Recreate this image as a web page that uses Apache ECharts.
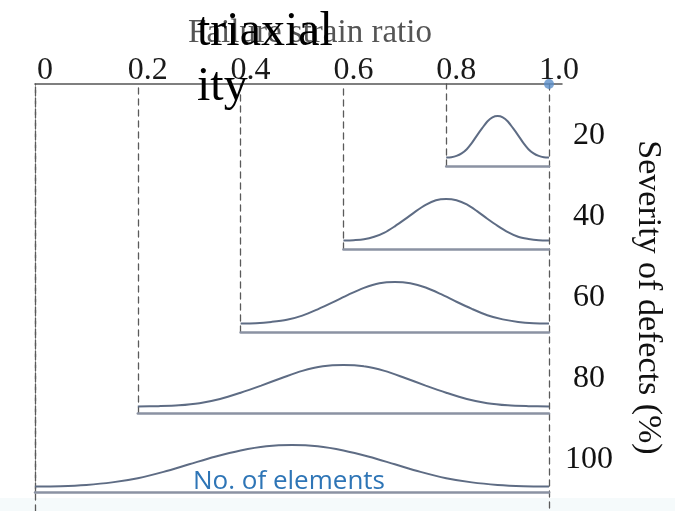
<!DOCTYPE html>
<html>
<head>
<meta charset="utf-8">
<script src="https://cdn.jsdelivr.net/npm/echarts@6/dist/echarts.min.js"></script>
<style>html,body{margin:0;padding:0;background:#fff}#c{width:675px;height:511px}</style>
</head>
<body>
<div id="c"></div>
<script>
// ---- data ----
const tickValues = [0, 0.2, 0.4, 0.6, 0.8, 1.0];
const tickLabels = ['0', '0.2', '0.4', '0.6', '0.8', '1.0'];
const severity = [20, 40, 60, 80, 100];
const rangeStart = [0.8, 0.6, 0.4, 0.2, 0.0];
const rangeEnd = [1.0, 1.0, 1.0, 1.0, 1.0];

const ratio20 = [0.80, 0.81, 0.82, 0.83, 0.84, 0.85, 0.86, 0.87, 0.88, 0.89, 0.90, 0.91, 0.92, 0.93, 0.94, 0.95, 0.96, 0.97, 0.98, 0.99, 1.00];
const count20 = [0.01, 0.02, 0.05, 0.11, 0.21, 0.36, 0.54, 0.71, 0.87, 0.97, 1.00, 0.97, 0.87, 0.71, 0.54, 0.36, 0.21, 0.11, 0.05, 0.02, 0.01];
const ratio40 = [0.60, 0.62, 0.64, 0.66, 0.68, 0.70, 0.72, 0.74, 0.76, 0.78, 0.80, 0.82, 0.84, 0.86, 0.88, 0.90, 0.92, 0.94, 0.96, 0.98, 1.00];
const count40 = [0.01, 0.02, 0.04, 0.10, 0.20, 0.35, 0.52, 0.70, 0.86, 0.97, 1.00, 0.97, 0.87, 0.71, 0.53, 0.36, 0.21, 0.10, 0.05, 0.02, 0.01];
const ratio60 = [0.40, 0.43, 0.46, 0.49, 0.52, 0.55, 0.58, 0.61, 0.64, 0.67, 0.70, 0.73, 0.76, 0.79, 0.82, 0.85, 0.88, 0.91, 0.94, 0.97, 1.00];
const count60 = [0.01, 0.02, 0.05, 0.10, 0.20, 0.35, 0.52, 0.70, 0.86, 0.97, 1.00, 0.97, 0.87, 0.71, 0.53, 0.36, 0.21, 0.11, 0.05, 0.02, 0.01];
const ratio80 = [0.20, 0.24, 0.28, 0.32, 0.36, 0.40, 0.44, 0.48, 0.52, 0.56, 0.60, 0.64, 0.68, 0.72, 0.76, 0.80, 0.84, 0.88, 0.92, 0.96, 1.00];
const count80 = [0.01, 0.02, 0.04, 0.09, 0.19, 0.34, 0.51, 0.69, 0.86, 0.97, 1.00, 0.97, 0.86, 0.69, 0.51, 0.34, 0.19, 0.09, 0.04, 0.02, 0.01];
const ratio100 = [0.00, 0.05, 0.10, 0.15, 0.20, 0.25, 0.30, 0.35, 0.40, 0.45, 0.50, 0.55, 0.60, 0.65, 0.70, 0.75, 0.80, 0.85, 0.90, 0.95, 1.00];
const count100 = [0.01, 0.02, 0.05, 0.11, 0.21, 0.36, 0.54, 0.72, 0.87, 0.97, 1.00, 0.97, 0.87, 0.72, 0.54, 0.36, 0.21, 0.11, 0.05, 0.02, 0.01];

const ratios = [ratio20, ratio40, ratio60, ratio80, ratio100];
const counts = [count20, count40, count60, count80, count100];

// ---- layout ----
const W = 675, H = 511;
const PLOT_L = 35, X_AT_ONE = 549, AXIS_END = 562, TOP = 84;
const underlineY = [166, 249, 332, 413, 492];
const gapPx = [8, 8, 8, 6, 5];
const AMP = 42;
const SERIF = 'Liberation Serif';
const dash = { color: '#5a5a5a', width: 1.3, type: [6, 5] };

const chart = echarts.init(document.getElementById('c'), null, { renderer: 'canvas' });

const grids = [
  { left: PLOT_L, right: W - AXIS_END, top: TOP, bottom: 0 },
  { left: PLOT_L, right: W - X_AT_ONE, top: TOP, bottom: 0 }
];
const xAxes = [
  {
    gridIndex: 0, type: 'value', position: 'top', min: 0,
    max: 1 + (AXIS_END - X_AT_ONE) / (X_AT_ONE - PLOT_L),
    axisLine: { show: true, onZero: false, lineStyle: { color: '#555', width: 1.5 } },
    axisTick: { show: false }, splitLine: { show: false },
    axisLabel: {
      customValues: tickValues, margin: -3, align: 'center',
      padding: [0, 0, 0, 20],
      fontFamily: SERIF, fontSize: 32, color: '#1a1a1a',
      formatter: v => { const i = tickValues.findIndex(t => Math.abs(t - v) < 1e-9); return i >= 0 ? tickLabels[i] : ''; }
    },
    name: 'Failure strain ratio', nameLocation: 'middle', nameGap: 23,
    nameTextStyle: { fontFamily: SERIF, fontSize: 33, color: '#555', padding: [0, 0, 0, 23] }
  },
  { gridIndex: 1, type: 'value', show: false, min: 0, max: 1, axisLine: { show: false, onZero: false } }
];
const yAxes = [
  { gridIndex: 0, type: 'value', show: false, min: 0, max: 1, axisLine: { show: false, onZero: false } },
  {
    gridIndex: 1, type: 'value', position: 'right', inverse: true, min: 7.4, max: 112.6,
    axisLine: { show: true, onZero: false, lineStyle: dash },
    axisTick: { show: false }, splitLine: { show: false },
    axisLabel: { customValues: severity, margin: 40, align: 'center', fontFamily: SERIF, fontSize: 32, color: '#111' },
    name: 'Severity of defects (%)', nameLocation: 'middle', nameRotate: -90, nameGap: 82,
    nameTextStyle: { fontFamily: SERIF, fontSize: 34, color: '#111' }
  },
  {
    gridIndex: 1, type: 'value', position: 'left', min: 0, max: 1,
    axisLine: { show: true, onZero: false, lineStyle: dash },
    axisTick: { show: false }, splitLine: { show: false }, axisLabel: { show: false }
  }
];
const series = [
  {
    type: 'scatter', xAxisIndex: 0, yAxisIndex: 0, data: [[tickValues[tickValues.length - 1], 1]],
    symbolSize: 10, itemStyle: { color: '#5b8fc9' }, clip: false, z: 10, silent: true
  }
];

severity.forEach((s, i) => {
  const left = PLOT_L + rangeStart[i] * (X_AT_ONE - PLOT_L);
  grids.push({ left: left, right: W - X_AT_ONE, top: TOP, bottom: H - underlineY[i] });
  xAxes.push({
    gridIndex: 2 + i, type: 'value', position: 'bottom', min: rangeStart[i], max: rangeEnd[i],
    axisLine: { show: true, onZero: false, lineStyle: { color: '#8b92a3', width: 2.5 } },
    axisTick: { show: false }, axisLabel: { show: false }, splitLine: { show: false }
  });
  const ymin = -gapPx[i] / AMP;
  yAxes.push({
    gridIndex: 2 + i, type: 'value', position: 'left', min: ymin, max: ymin + (underlineY[i] - TOP) / AMP,
    axisLine: { show: true, onZero: false, lineStyle: dash },
    axisTick: { show: false }, axisLabel: { show: false }, splitLine: { show: false }
  });
  series.push({
    type: 'line', name: 'Severity ' + s, xAxisIndex: 2 + i, yAxisIndex: 3 + i,
    data: ratios[i].map((x, k) => [x, counts[i][k]]),
    smooth: 0.3, symbol: 'none', clip: false,
    lineStyle: { color: '#5e6c84', width: 2 }
  });
});

chart.setOption({
  animation: false,
  backgroundColor: '#ffffff',
  grid: grids, xAxis: xAxes, yAxis: yAxes, series: series,
  graphic: [
    { type: 'rect', z: -10, silent: true, shape: { x: 0, y: 498, width: W, height: 13 }, style: { fill: '#f5fafb' } },
    { type: 'text', left: 197, top: 5, z: 100, silent: true,
      style: { text: 'triaxial\nity', font: '48px "Liberation Serif"', lineHeight: 55, fill: '#000' } },
    { type: 'text', left: 193, top: 469, z: 100, silent: true,
      style: { text: 'No. of elements', font: '26px "Open Sans"', fill: '#2e75b6' } }
  ]
});
</script>
</body>
</html>
